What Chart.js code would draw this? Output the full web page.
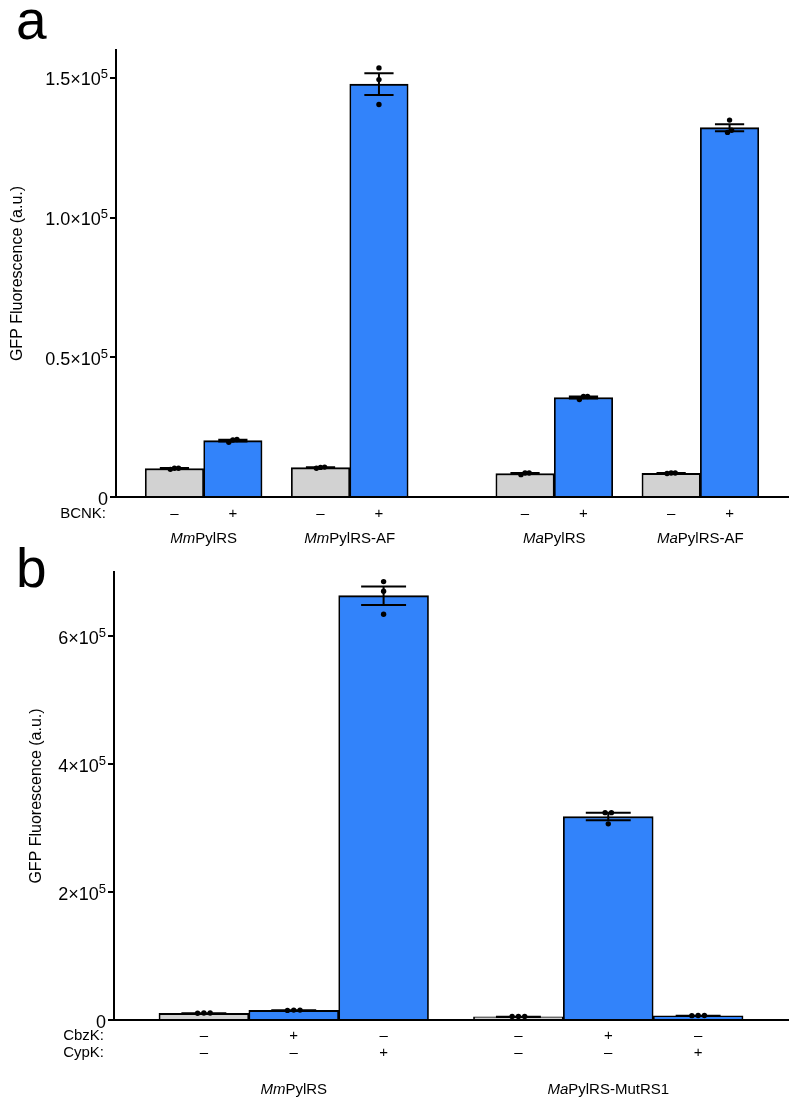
<!DOCTYPE html>
<html>
<head>
<meta charset="utf-8">
<script src="https://cdn.jsdelivr.net/npm/chart.js@4.4.1/dist/chart.umd.min.js"></script>
<style>
  body { margin: 0; background: #fff; width: 800px; height: 1109px; position: relative; overflow: hidden; font-family: "Liberation Sans", Arial, sans-serif; }
  .panel { position: absolute; left: 0; width: 800px; }
  .letter { position: absolute; font-size: 55px; line-height: 1; color: #000; }
</style>
</head>
<body>
<div class="panel" style="top:0;height:555px"><canvas id="chartA"></canvas></div>
<div class="panel" style="top:555px;height:554px"><canvas id="chartB"></canvas></div>
<div class="letter" style="left:16px;top:-7px">a</div>
<div class="letter" style="left:16px;top:541px">b</div>
<script>
// Panel a
const speciesA = ['Mm', 'Mm', 'Ma', 'Ma'];
const enzymeA = ['PylRS', 'PylRS-AF', 'PylRS', 'PylRS-AF'];
const condNamesA = ['BCNK:'];
const condSignsA = [['–', '+']];
const meansA = [10200, 20200, 10500, 147800, 8400, 35600, 8500, 132200];
const semA = [150, 300, 130, 3900, 200, 350, 70, 1250];
const repsA = [
  [10300, 9900, 10300], [20600, 19600, 20400],
  [10700, 10300, 10600], [153600, 149400, 140500],
  [8600, 8000, 8600], [36000, 34900, 36000],
  [8600, 8400, 8600], [134900, 131300, 130500]
];
const yTicksA = [0, 50000, 100000, 150000];
const yTickLabelsA = ['0', '0.5×10^5', '1.0×10^5', '1.5×10^5'];
const yMaxA = 160000;

// Panel b
const speciesB = ['Mm', 'Ma'];
const enzymeB = ['PylRS', 'PylRS-MutRS1'];
const condNamesB = ['CbzK:', 'CypK:'];
const condSignsB = [['–', '+', '–'], ['–', '–', '+']];
const meansB = [10500, 15000, 663000, 5000, 318000, 6500];
const semB = [200, 250, 14500, 150, 6000, 150];
const repsB = [
  [11000, 10500, 11000], [15500, 15500, 15000], [685000, 670000, 634000],
  [5600, 5400, 5500], [324000, 324000, 306500], [7000, 7000, 6800]
];
const yTicksB = [0, 200000, 400000, 600000];
const yTickLabelsB = ['0', '2×10^5', '4×10^5', '6×10^5'];
const yMaxB = 700000;

const BLUE = '#3283fa';
const GRAY = '#d2d2d2';
const FONT = '"Liberation Sans", Arial, sans-serif';
Chart.defaults.font.family = FONT;
Chart.defaults.color = '#000';

// positions of bars: adjacent inside a group, gap between groups
function barPositions(species, perGroup, familyGap) {
  const pos = [];
  let p = 0;
  species.forEach((sp, g) => {
    if (g > 0) p += 1 + 0.5 + (sp !== species[g - 1] ? familyGap : 0);
    for (let k = 0; k < perGroup; k++) {
      if (k > 0) p += 1;
      pos.push(p);
    }
  });
  return pos;
}

// Prism-like spread of replicates that would overlap
function replicatePoints(pos, reps, yMax) {
  const pts = [];
  const thr = yMax * 0.012, step = 0.07;
  reps.forEach((vals, i) => {
    const idx = vals.map((_, j) => j).sort((a, b) => vals[a] - vals[b]);
    let cluster = [idx[0]];
    const flush = () => {
      cluster.forEach((j, k) => pts.push({ x: pos[i] + (k - (cluster.length - 1) / 2) * step, y: vals[j] }));
    };
    for (let k = 1; k < idx.length; k++) {
      if (vals[idx[k]] - vals[cluster[cluster.length - 1]] < thr) cluster.push(idx[k]);
      else { flush(); cluster = [idx[k]]; }
    }
    flush();
  });
  return pts;
}

function errorBarPlugin(pos, means, sem) {
  return {
    id: 'errorBars',
    afterDatasetDraw(chart, args) {
      if (args.meta.type !== 'bar') return;
      const { ctx, scales: { x, y } } = chart;
      ctx.save();
      ctx.strokeStyle = '#000';
      ctx.lineWidth = 2;
      pos.forEach((p, i) => {
        const cx = x.getPixelForValue(p);
        const hw = x.getPixelForValue(p + 0.25) - cx;
        const yt = y.getPixelForValue(means[i] + sem[i]);
        const yb = y.getPixelForValue(means[i] - sem[i]);
        ctx.beginPath();
        ctx.moveTo(cx, yt); ctx.lineTo(cx, yb);
        ctx.moveTo(cx - hw, yt); ctx.lineTo(cx + hw, yt);
        ctx.moveTo(cx - hw, yb); ctx.lineTo(cx + hw, yb);
        ctx.stroke();
      });
      ctx.restore();
    }
  };
}

// y tick labels with a real superscript exponent
function tickLabelPlugin(ticks, labels) {
  return {
    id: 'tickLabels',
    afterDraw(chart) {
      const { ctx, scales: { y }, chartArea } = chart;
      const right = chartArea.left - 8;
      ctx.save();
      ctx.fillStyle = '#000';
      ctx.textBaseline = 'alphabetic';
      ctx.textAlign = 'left';
      ticks.forEach((v, i) => {
        const py = y.getPixelForValue(v);
        const [base, exp] = labels[i].split('^');
        ctx.font = '18px ' + FONT;
        const wb = ctx.measureText(base).width;
        ctx.font = '13px ' + FONT;
        const we = exp ? ctx.measureText(exp).width : 0;
        const x0 = right - wb - we;
        ctx.font = '18px ' + FONT;
        ctx.fillText(base, x0, py + 7.5);
        if (exp) {
          ctx.font = '13px ' + FONT;
          ctx.fillText(exp, x0 + wb, py + 0.5);
        }
      });
      ctx.restore();
    }
  };
}

function labelPlugin(pos, species, enzyme, condNames, condSigns, perGroup, lay) {
  return {
    id: 'labelRows',
    afterDraw(chart) {
      const { ctx, scales: { x }, chartArea } = chart;
      ctx.save();
      ctx.fillStyle = '#000';
      ctx.textBaseline = 'middle';
      condNames.forEach((name, r) => {
        const yy = chartArea.bottom + lay.rowTop + r * lay.rowStep;
        ctx.font = '15px ' + FONT;
        ctx.textAlign = 'right';
        ctx.fillText(name, chartArea.left - 10, yy);
        ctx.textAlign = 'center';
        pos.forEach((p, i) => ctx.fillText(condSigns[r][i % perGroup], x.getPixelForValue(p), yy));
      });
      const gy = chartArea.bottom + lay.groupY;
      ctx.textAlign = 'left';
      species.forEach((sp, g) => {
        const first = pos[g * perGroup], last = pos[g * perGroup + perGroup - 1];
        const cx = (x.getPixelForValue(first) + x.getPixelForValue(last)) / 2;
        ctx.font = 'italic 15px ' + FONT;
        const w1 = ctx.measureText(sp).width;
        ctx.font = '15px ' + FONT;
        const w2 = ctx.measureText(enzyme[g]).width;
        const x0 = cx - (w1 + w2) / 2;
        ctx.font = 'italic 15px ' + FONT;
        ctx.fillText(sp, x0, gy);
        ctx.font = '15px ' + FONT;
        ctx.fillText(enzyme[g], x0 + w1, gy);
      });
      ctx.restore();
    }
  };
}

function makeChart(id, p) {
  const pos = barPositions(p.species, p.perGroup, p.familyGap);
  const colors = pos.map((_, i) => {
    const k = i % p.perGroup;
    return p.condSigns.every(row => row[k] === '–') ? GRAY : BLUE;
  });
  return new Chart(document.getElementById(id), {
    type: 'bar',
    data: {
      datasets: [
        {
          type: 'scatter',
          data: replicatePoints(pos, p.reps, p.yMax),
          pointRadius: 2.7,
          pointBackgroundColor: '#000',
          pointBorderWidth: 0,
          order: 0
        },
        {
          type: 'bar',
          data: pos.map((x, i) => ({ x: x, y: p.means[i] })),
          backgroundColor: colors,
          borderColor: '#000',
          borderWidth: { top: 2, left: 1.7, right: 1.7, bottom: 0 },
          barPercentage: 1,
          categoryPercentage: 1,
          order: 1
        }
      ]
    },
    options: {
      responsive: true,
      maintainAspectRatio: false,
      animation: false,
      layout: { padding: p.padding },
      plugins: { legend: { display: false }, tooltip: { enabled: false } },
      scales: {
        x: {
          type: 'linear',
          min: pos[0] - 1,
          max: pos[pos.length - 1] + 1,
          offset: false,
          afterBuildTicks: s => { s.ticks = [{ value: pos[0] - 1 }]; },
          ticks: { display: false },
          grid: { display: false },
          border: { display: true, color: '#000', width: 2, z: 1 },
          afterFit: s => { s.height = p.xHeight; }
        },
        y: {
          min: 0,
          max: p.yMax,
          afterBuildTicks: s => { s.ticks = p.yTicks.map(v => ({ value: v })); },
          ticks: { display: false },
          grid: { display: true, drawOnChartArea: false, drawTicks: true, tickLength: 6, color: '#000', lineWidth: 2 },
          border: { display: true, color: '#000', width: 2 },
          title: { display: true, text: 'GFP Fluorescence (a.u.)', color: '#000', font: { size: 16 } },
          afterFit: s => { s.width = p.yWidth; }
        }
      }
    },
    plugins: [
      errorBarPlugin(pos, p.means, p.sem),
      tickLabelPlugin(p.yTicks, p.yTickLabels),
      labelPlugin(pos, p.species, p.enzyme, p.condNames, p.condSigns, p.perGroup, p.lay)
    ]
  });
}

makeChart('chartA', {
  species: speciesA, enzyme: enzymeA, condNames: condNamesA, condSigns: condSignsA,
  means: meansA, sem: semA, reps: repsA, yTicks: yTicksA, yTickLabels: yTickLabelsA, yMax: yMaxA,
  perGroup: 2, familyGap: 1,
  padding: { left: 4, right: 12, top: 50, bottom: 0 }, yWidth: 112, xHeight: 58,
  lay: { rowTop: 17, rowStep: 17.5, groupY: 42 }
});

makeChart('chartB', {
  species: speciesB, enzyme: enzymeB, condNames: condNamesB, condSigns: condSignsB,
  means: meansB, sem: semB, reps: repsB, yTicks: yTicksB, yTickLabels: yTickLabelsB, yMax: yMaxB,
  perGroup: 3, familyGap: 0,
  padding: { left: 23, right: 12, top: 17, bottom: 0 }, yWidth: 91, xHeight: 89,
  lay: { rowTop: 15.5, rowStep: 17.5, groupY: 70 }
});
</script>
</body>
</html>
